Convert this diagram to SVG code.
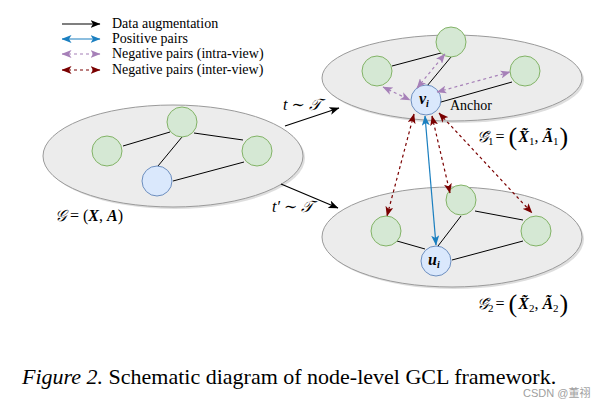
<svg xmlns="http://www.w3.org/2000/svg" width="605" height="408" viewBox="0 0 605 408" font-family="'Liberation Serif','DejaVu Serif',serif">
<style>
.ell{fill:#ececec;stroke:#9a9a9a;stroke-width:1}
.sh{fill:#c8c8c8;stroke:none;opacity:0.6}
.g{fill:#d5e8d4;stroke:#82b366;stroke-width:1}
.b{fill:#dae8fc;stroke:#6c8ebf;stroke-width:1}
.e{stroke:#000;stroke-width:1;fill:none}
.aug{stroke:#000;stroke-width:1.2;fill:none;marker-end:url(#mk)}
.pos{stroke:#1a7fc0;stroke-width:1.2;fill:none;marker-start:url(#mb);marker-end:url(#mb)}
.intra{stroke:#a680b8;stroke-width:1.2;fill:none;stroke-dasharray:3 3;marker-start:url(#mp);marker-end:url(#mp)}
.inter{stroke:#7a0000;stroke-width:1.2;fill:none;stroke-dasharray:3 3;marker-start:url(#mr);marker-end:url(#mr)}
text{font-family:'Liberation Serif','DejaVu Serif',serif;fill:#000}
.lg{font-size:14px}
.m{font-size:16px}
.bi{font-weight:bold;font-style:italic}
.it{font-style:italic}
</style>
<defs>
<marker id="mk" viewBox="0 0 10 8" refX="9.5" refY="4" markerWidth="10" markerHeight="8" markerUnits="userSpaceOnUse" orient="auto-start-reverse"><path d="M0,0 L10,4 L0,8 L2.5,4 Z" fill="#000"/></marker>
<marker id="mb" viewBox="0 0 10 8" refX="9.5" refY="4" markerWidth="10" markerHeight="8" markerUnits="userSpaceOnUse" orient="auto-start-reverse"><path d="M0,0 L10,4 L0,8 L2.5,4 Z" fill="#1a7fc0"/></marker>
<marker id="mp" viewBox="0 0 10 8" refX="9.5" refY="4" markerWidth="10" markerHeight="8" markerUnits="userSpaceOnUse" orient="auto-start-reverse"><path d="M0,0 L10,4 L0,8 L2.5,4 Z" fill="#a680b8"/></marker>
<marker id="mr" viewBox="0 0 10 8" refX="9.5" refY="4" markerWidth="10" markerHeight="8" markerUnits="userSpaceOnUse" orient="auto-start-reverse"><path d="M0,0 L10,4 L0,8 L2.5,4 Z" fill="#7a0000"/></marker>
</defs>

<g id="legend">
<line class="aug" x1="62" y1="24" x2="100" y2="24"/>
<line class="pos" x1="62" y1="39" x2="100" y2="39"/>
<line class="intra" x1="62" y1="54" x2="100" y2="54"/>
<line class="inter" x1="62" y1="70" x2="100" y2="70"/>
<text class="lg" x="112" y="28">Data augmentation</text>
<text class="lg" x="112" y="43">Positive pairs</text>
<text class="lg" x="112" y="58">Negative pairs (intra-view)</text>
<text class="lg" x="112" y="74">Negative pairs (inter-view)</text>
</g>

<g id="graph-G">
<ellipse class="sh" cx="175" cy="158" rx="130" ry="51"/>
<ellipse class="ell" cx="173" cy="156" rx="130" ry="51"/>
<line class="e" x1="123" y1="146" x2="170" y2="132"/>
<line class="e" x1="194" y1="133" x2="243" y2="140"/>
<line class="e" x1="182" y1="137" x2="158" y2="166"/>
<line class="e" x1="173" y1="181" x2="244" y2="162"/>
<circle id="G-n1" class="g" cx="182" cy="122" r="15"/>
<circle id="G-n2" class="g" cx="107" cy="151" r="15"/>
<circle id="G-n3" class="g" cx="257" cy="151" r="15"/>
<circle id="G-n4" class="b" cx="157" cy="181" r="15"/>
<text class="m" x="55" y="221"><tspan class="it">𝒢</tspan> = (<tspan class="bi">X</tspan>, <tspan class="bi">A</tspan>)</text>
</g>

<g id="graph-G1">
<ellipse class="sh" cx="454" cy="80" rx="130" ry="43"/>
<ellipse class="ell" cx="452" cy="78" rx="130" ry="43"/>
<line class="e" x1="392" y1="66" x2="441" y2="53"/>
<line class="e" x1="451" y1="57" x2="427" y2="86"/>
<line class="e" x1="441" y1="102" x2="512" y2="82"/>
<circle id="G1-n1" class="g" cx="451" cy="42" r="15"/>
<circle id="G1-n2" class="g" cx="377" cy="71" r="15"/>
<circle id="G1-n3" class="g" cx="525" cy="71" r="15"/>
<g id="G1-vi"><circle class="b" cx="426" cy="100" r="15"/>
<text class="bi" x="419" y="104" font-size="16">v<tspan font-size="10" dy="3">i</tspan></text></g>
<text class="lg" x="450" y="110">Anchor</text>
<text class="m" x="477" y="142"><tspan class="it">𝒢̃</tspan><tspan font-size="11" dy="3">1</tspan><tspan dy="-3" dx="2">=</tspan><tspan font-size="26" dy="3" dx="4">(</tspan><tspan class="bi" dy="-3" dx="1">X̃</tspan><tspan font-size="11" dy="3">1</tspan><tspan dy="-3">,</tspan><tspan class="bi" dx="4">Ã</tspan><tspan font-size="11" dy="3">1</tspan><tspan font-size="26" dx="1">)</tspan></text>
</g>

<g id="graph-G2">
<ellipse class="sh" cx="454" cy="239" rx="130" ry="50"/>
<ellipse class="ell" cx="452" cy="237" rx="130" ry="50"/>
<line class="e" x1="397" y1="241" x2="425" y2="249"/>
<line class="e" x1="461" y1="216" x2="438" y2="246"/>
<line class="e" x1="452" y1="260" x2="523" y2="241"/>
<line class="e" x1="475" y1="211" x2="523" y2="220"/>
<circle id="G2-n1" class="g" cx="461" cy="200" r="15"/>
<circle id="G2-n2" class="g" cx="386" cy="231" r="15"/>
<circle id="G2-n3" class="g" cx="536" cy="231" r="15"/>
<g id="G2-ui"><circle class="b" cx="436" cy="261" r="15"/>
<text class="bi" x="428" y="265" font-size="16">u<tspan font-size="10" dy="3">i</tspan></text></g>
<text class="m" x="477" y="309"><tspan class="it">𝒢̃</tspan><tspan font-size="11" dy="3">2</tspan><tspan dy="-3" dx="2">=</tspan><tspan font-size="26" dy="3" dx="4">(</tspan><tspan class="bi" dy="-3" dx="1">X̃</tspan><tspan font-size="11" dy="3">2</tspan><tspan dy="-3">,</tspan><tspan class="bi" dx="4">Ã</tspan><tspan font-size="11" dy="3">2</tspan><tspan font-size="26" dx="1">)</tspan></text>
</g>

<g id="connectors">
<line class="aug" x1="285" y1="126" x2="339" y2="108"/>
<line class="aug" x1="281" y1="184" x2="338" y2="208"/>
<line class="intra" x1="383" y1="87" x2="410" y2="100"/>
<line class="intra" x1="417" y1="88" x2="445" y2="54"/>
<line class="intra" x1="437" y1="92" x2="510" y2="72"/>
<line class="inter" x1="414" y1="114" x2="387" y2="216"/>
<line class="inter" x1="432" y1="116" x2="450" y2="193"/>
<line class="inter" x1="439" y1="113" x2="532" y2="213"/>
<line class="pos" x1="425" y1="116" x2="436" y2="245"/>
</g>

<text class="m it" x="283" y="110">t ∼ 𝒯</text>
<text class="m it" x="272" y="212">t′ ∼ 𝒯</text>

<text x="22" y="384" font-size="22"><tspan font-style="italic">Figure 2.</tspan> Schematic diagram of node-level GCL framework.</text>
<text x="523" y="397" font-size="11" style="font-family:'Liberation Sans','Noto Sans CJK SC',sans-serif;fill:#a0a0a0">CSDN @董祤</text>
</svg>
